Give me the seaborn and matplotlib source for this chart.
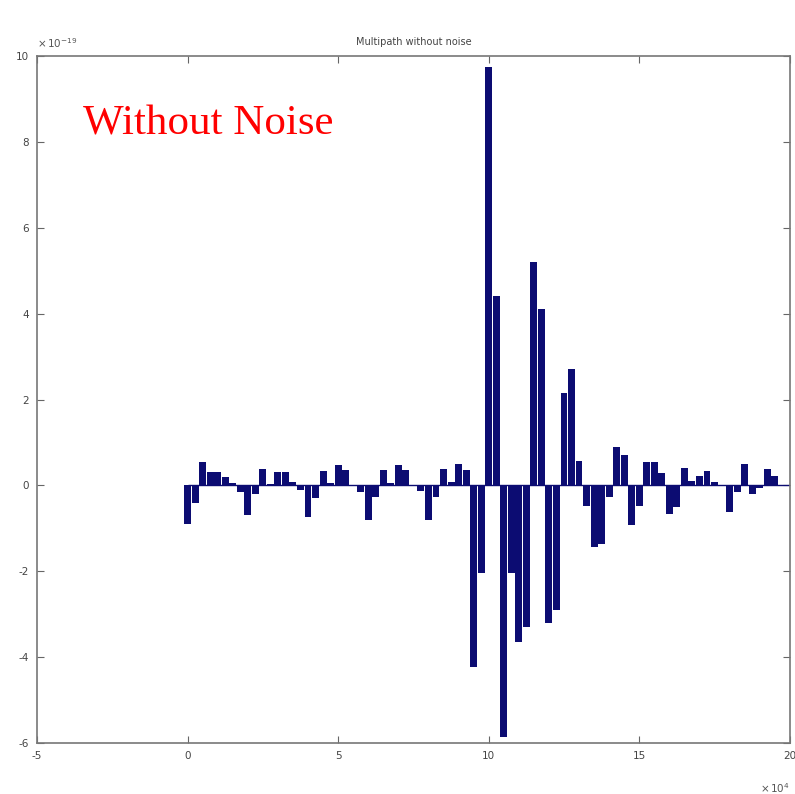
import matplotlib.pyplot as plt
import numpy as np
import seaborn as sns

# bar positions (x 10^4) and amplitudes (x 10^-19), step 0.25
positions = np.arange(0, 20.01, 0.25)
amplitudes = [
    -0.90, -0.40, 0.55, 0.30, 0.30, 0.20, 0.05, -0.15,
    -0.70, -0.20, 0.38, 0.04, 0.32, 0.32, 0.08, -0.10,
    -0.74, -0.30, 0.33, 0.06, 0.47, 0.35, 0.02, -0.15,
    -0.80, -0.27, 0.35, 0.05, 0.47, 0.35, 0.02, -0.12,
    -0.80, -0.27, 0.39, 0.08, 0.49, 0.35, -4.23, -2.05,
    9.75, 4.40, -5.85, -2.05, -3.65, -3.30, 5.20, 4.10,
    -3.20, -2.90, 2.15, 2.70, 0.57, -0.47, -1.44, -1.36,
    -0.26, 0.89, 0.70, -0.93, -0.49, 0.54, 0.54, 0.29,
    -0.66, -0.50, 0.41, 0.10, 0.23, 0.33, 0.08, 0.01,
    -0.62, -0.15, 0.50, -0.20, -0.05, 0.39, 0.21, 0.02,
    0.01,
]
x_ticks = [-5, 0, 5, 10, 15, 20]
y_ticks = [-6, -4, -2, 0, 2, 4, 6, 8, 10]

sns.set_style("white")
fig = plt.figure(figsize=(7.95, 7.94), dpi=100)
ax = fig.add_axes([0.0465, 0.0642, 0.947, 0.8653])

sns.barplot(x=positions, y=amplitudes, native_scale=True, width=0.92,
            color="#0c0c72", saturation=1, errorbar=None, linewidth=0, ax=ax)
ax.hlines(0, positions.min(), positions.max(), color="#0c0c72", lw=1)

ax.set_xlim(-5, 20)
ax.set_ylim(-6, 10)
ax.set_xticks(x_ticks)
ax.set_yticks(y_ticks)
ax.set_xticklabels([str(t) for t in x_ticks])
ax.set_yticklabels([str(t) for t in y_ticks])
ax.tick_params(direction="in", length=5, width=0.8, color="#666666",
               labelsize=7.5, labelcolor="#444444", top=True, right=True,
               bottom=True, left=True, pad=6)
for s in ax.spines.values():
    s.set_color("#777777")
    s.set_linewidth(1.2)

ax.set_title("Multipath without noise", fontsize=7, color="#444444", pad=8)
ax.text(0.0, 1.008, r"$\times\,10^{-19}$", transform=ax.transAxes,
        fontsize=7.5, color="#555555", ha="left", va="bottom")
ax.text(1.0, -0.055, r"$\times\,10^{4}$", transform=ax.transAxes,
        fontsize=7.5, color="#555555", ha="right", va="top")
ax.text(0.061, 0.9, "Without Noise", transform=ax.transAxes,
        fontsize=31, color="red", family="Liberation Serif",
        ha="left", va="center")

fig.savefig("out.png", dpi=100)
